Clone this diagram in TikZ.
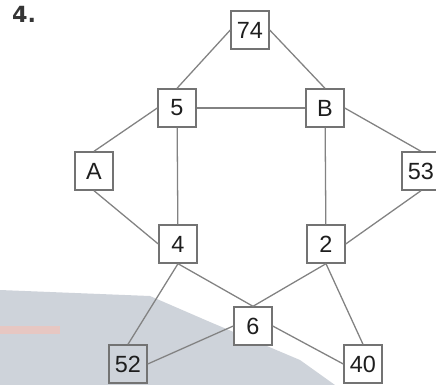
\documentclass[tikz,border=0pt]{standalone}
\usepackage{fontspec}
\setmainfont{Liberation Sans}
\newfontfamily\headfont{DejaVu Sans}
\usepackage{xcolor}
\usetikzlibrary{positioning}
\definecolor{linegray}{RGB}{130,130,130}
\definecolor{boxgray}{RGB}{115,115,115}
\definecolor{textdark}{RGB}{30,30,30}
\definecolor{swoosh}{RGB}{206,211,218}
\definecolor{streak}{RGB}{238,196,188}
\tikzset{
  numbox/.style={rectangle, draw=boxgray, line width=1.2pt, fill=white,
    minimum width=1.14cm, minimum height=1.14cm, inner sep=0pt,
    text=textdark, font=\fontsize{20}{22}\selectfont},
  edgeline/.style={draw=linegray, line width=1.1pt},
  tasklabel/.style={text=textdark!90, font=\headfont\fontsize{19}{21}\selectfont\bfseries, inner sep=0pt}
}

\begin{document}
\begin{tikzpicture}[x=0.03cm, y=-0.03cm]
  \useasboundingbox (0,0) rectangle (436,385);
  % scanned background
  \fill[swoosh] (0,290) -- (150,296) -- (210,322) -- (300,360) -- (335,385) -- (0,385) -- cycle;
  \fill[streak, opacity=0.8] (0,326) rectangle (60,334);

  \node[tasklabel, anchor=north west] (task) at (12,6) {4.};

  \node[numbox] (n74) at (250,30) {74};
  \node[numbox] (n5) at (177,108) {5};
  \node[numbox] (nB) at (325,108) {B};
  \node[numbox] (nA) at (94,171) {A};
  \node[numbox] (n53) at (421,171) {53};
  \node[numbox] (n4) at (178,244) {4};
  \node[numbox] (n2) at (326,244) {2};
  \node[numbox] (n6) at (253,326) {6};
  \node[numbox, fill=none] (n52) at (128,364) {52};
  \node[numbox] (n40) at (363,364) {40};

  \draw[edgeline] (n74.west) -- (n5.north);
  \draw[edgeline] (n74.east) -- (nB.north);
  \draw[edgeline] (n5) -- (nB);
  \draw[edgeline] (nA.north) -- (n5.west);
  \draw[edgeline] (n5) -- (n4);
  \draw[edgeline] (nB.east) -- (n53.north);
  \draw[edgeline] (nB) -- (n2);
  \draw[edgeline] (nA.south) -- (n4.west);
  \draw[edgeline] (n53.south) -- (n2.east);
  \draw[edgeline] (n4.south) -- (n52.north);
  \draw[edgeline] (n4.south) -- (n6.north);
  \draw[edgeline] (n2.south) -- (n6.north);
  \draw[edgeline] (n2.south) -- (n40.north);
  \draw[edgeline] (n6.west) -- (n52.east);
  \draw[edgeline] (n6.east) -- (n40.west);
\end{tikzpicture}
\end{document}
